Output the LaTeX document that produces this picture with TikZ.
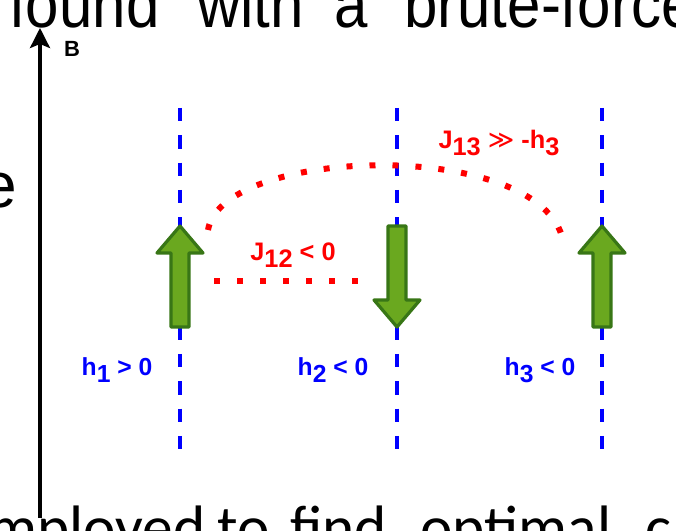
\documentclass[tikz,border=0pt]{standalone}
\usepackage{fontspec}
\setmainfont{Liberation Sans}
\newfontfamily\symfont{DejaVu Sans}
\newfontfamily\bodyfont{Carlito}
\usetikzlibrary{arrows.meta,calc}
\definecolor{spinfill}{RGB}{106,168,31}
\definecolor{spinedge}{RGB}{56,118,22}
\newcommand{\lowsub}[1]{\raisebox{-0.28em}{#1}}
\newcommand{\narrowtext}[1]{\scalebox{0.9}[1]{#1}}

\begin{document}
\begin{tikzpicture}[x=0.75pt, y=-0.75pt, >={Stealth[length=15pt, width=15pt, inset=3pt]},
  field/.style={blue, line width=3pt, dash pattern=on 10pt off 10.5pt},
  spin/.style={fill=spinfill, draw=spinedge, line width=2.4pt, line join=round},
  coupling/.style={red, line width=4.5pt, dash pattern=on 4.5pt off 12.75pt},
  hlabel/.style={blue, font=\bfseries\fontsize{18.5}{20}\selectfont},
  jlabel/.style={red, font=\bfseries\fontsize{19}{21}\selectfont},
  pagetext/.style={anchor=base west, inner sep=0pt, font=\fontsize{50}{56}\selectfont},
  lowtext/.style={anchor=base west, inner sep=0pt, font=\bodyfont\fontsize{46}{52}\selectfont}]
  \useasboundingbox (0,0) rectangle (676,531);
  \clip (0,0) rectangle (676,531);

  % 周围的正文
  \node[pagetext] (t1) at (9,28) {\narrowtext{found}};
  \node[pagetext] (t2) at (197,28) {\narrowtext{with}};
  \node[pagetext] (t3) at (334,28) {\narrowtext{a}};
  \node[pagetext] (t4) at (404,28) {\narrowtext{brute-force}};
  \node[pagetext, anchor=base east, font=\fontsize{48}{54}\selectfont] (t5) at (17,208) {e};
  \node[lowtext] (t6) at (-12,549) {mployed};
  \node[lowtext] (t7) at (217,549) {to};
  \node[lowtext] (t8) at (290,549) {find};
  \node[lowtext] (t9) at (420,549) {optimal};
  \node[lowtext] (t10) at (645,549) {c};

  % 磁场轴
  \coordinate (b0) at (40,518);
  \coordinate (b1) at (40,28);
  \draw[->, line width=2.6pt] (b0) -- (b1);
  \node[inner sep=0pt, font=\bfseries\fontsize{16.5}{18}\selectfont] (B) at (72,49) {B};

  % 自旋位置
  \coordinate (s1) at (180,276);
  \coordinate (s2) at (397,276);
  \coordinate (s3) at (602,276);
  \foreach \s in {s1,s2,s3}
    \draw[field] (\s |- 0,108) -- (\s |- 0,452);

  % 自旋箭头
  \filldraw[spin] (s1) ++(-9,51) -- ++(0,-74) -- ++(-14,0) -- ++(23,-27) -- ++(23,27) -- ++(-14,0) -- ++(0,74) -- cycle;
  \filldraw[spin] (s2) ++(-9,-50) -- ++(0,74) -- ++(-14,0) -- ++(23,27) -- ++(23,-27) -- ++(-14,0) -- ++(0,-74) -- cycle;
  \filldraw[spin] (s3) ++(-9,51) -- ++(0,-74) -- ++(-14,0) -- ++(23,-27) -- ++(23,27) -- ++(-14,0) -- ++(0,74) -- cycle;

  % 耦合
  \draw[coupling] ($(s1)+(34,5)$) -- ($(s2)+(-39,5)$);
  \draw[coupling] ($(s1)+(28,-46)$) .. controls ($(s1)+(42,-131)$) and ($(s3)+(-50,-139)$) .. ($(s3)+(-38,-30)$);

  % 标签
  \node[hlabel] (h1) at (117,370) {h\lowsub{1} > 0};
  \node[hlabel] (h2) at (333,370) {h\lowsub{2} < 0};
  \node[hlabel] (h3) at (540,370) {h\lowsub{3} < 0};
  \node[jlabel] (J12) at (293,255) {J\lowsub{12} < 0};
  \node[jlabel] (J13) at (499,143) {J\lowsub{13} {\symfont\mdseries ≫} -h\lowsub{3}};
\end{tikzpicture}
\end{document}
